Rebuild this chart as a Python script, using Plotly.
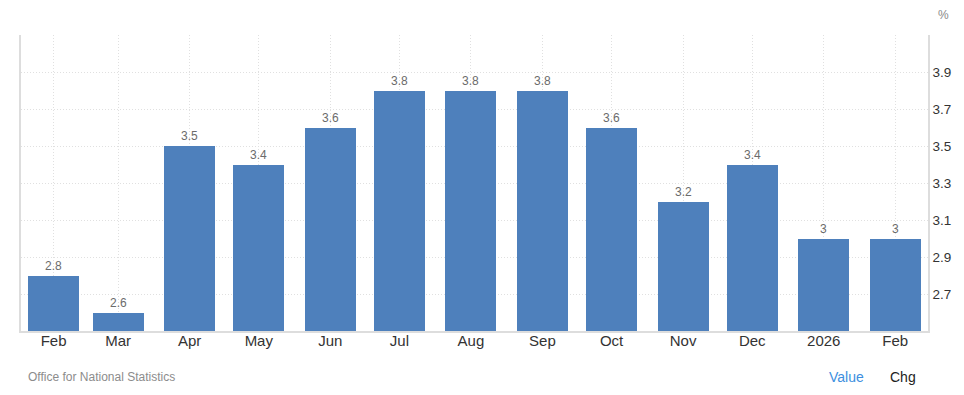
import plotly.graph_objects as go

months = ["2025-02-01", "2025-03-01", "2025-04-01", "2025-05-01", "2025-06-01",
          "2025-07-01", "2025-08-01", "2025-09-01", "2025-10-01", "2025-11-01",
          "2025-12-01", "2026-01-01", "2026-02-01"]
tick_labels = ["Feb", "Mar", "Apr", "May", "Jun", "Jul", "Aug", "Sep", "Oct",
               "Nov", "Dec", "2026", "Feb"]
values = [2.8, 2.6, 3.5, 3.4, 3.6, 3.8, 3.8, 3.8, 3.6, 3.2, 3.4, 3.0, 3.0]
y_ticks = [2.7, 2.9, 3.1, 3.3, 3.5, 3.7, 3.9, 4.1]
y_tick_text = ["2.7", "2.9", "3.1", "3.3", "3.5", "3.7", "3.9", ""]

FONT = "Liberation Sans, Arial, sans-serif"

fig = go.Figure()
fig.add_trace(go.Bar(
    x=months, y=values,
    width=22.1 * 86400000,
    marker=dict(color="#4e80bc", line=dict(width=0)),
    text=[f"{v:g}" for v in values],
    textposition="outside",
    textfont=dict(family=FONT, size=12, color="#6b6b6b"),
    cliponaxis=False,
    hoverinfo="x+y",
))

fig.update_layout(
    width=964, height=395,
    margin=dict(l=21, r=36, t=35, b=64),
    paper_bgcolor="white", plot_bgcolor="white",
    showlegend=False,
    bargap=0,
    font=dict(family=FONT),
    xaxis=dict(
        type="date",
        range=["2025-01-17 21:00", "2026-02-15 05:00"],
        tickvals=months, ticktext=tick_labels,
        showgrid=True, gridcolor="#e0e0e0", griddash="1px,2px", gridwidth=1,
        showline=True, linecolor="#dddddd", linewidth=1.5,
        ticks="", tickfont=dict(family=FONT, size=15, color="#333333"),
        ticklabelstandoff=-5,
        zeroline=False, fixedrange=True, automargin=False,
    ),
    yaxis=dict(
        side="right",
        range=[2.5, 4.1],
        tickvals=y_ticks, ticktext=y_tick_text,
        showgrid=True, gridcolor="#e0e0e0", griddash="1px,2px", gridwidth=1,
        showline=True, linecolor="#dddddd", linewidth=1.5, mirror=True,
        ticks="", tickfont=dict(family=FONT, size=13.5, color="#333333"),
        zeroline=False, fixedrange=True, automargin=False,
    ),
    annotations=[
        dict(text="%", xref="paper", yref="paper", x=1.0, y=1.0,
             xshift=15, yshift=20, showarrow=False,
             xanchor="center", yanchor="middle",
             font=dict(family=FONT, size=12, color="#8a8a8a")),
        dict(text="Office for National Statistics", xref="paper", yref="paper",
             x=0, y=0, xshift=5, yshift=-46, showarrow=False,
             xanchor="left", yanchor="middle",
             font=dict(family=FONT, size=12, color="#8c8c8c")),
        dict(text="Value", xref="paper", yref="paper",
             x=1.0, y=0, xshift=-82, yshift=-46, showarrow=False,
             xanchor="center", yanchor="middle",
             font=dict(family=FONT, size=14, color="#3d8fe0")),
        dict(text="Chg", xref="paper", yref="paper",
             x=1.0, y=0, xshift=-25, yshift=-46, showarrow=False,
             xanchor="center", yanchor="middle",
             font=dict(family=FONT, size=14, color="#222222")),
    ],
)

fig.write_html("out.html", config={"displayModeBar": False},
               post_script="document.body.style.margin='0';document.body.style.overflow='hidden';")
